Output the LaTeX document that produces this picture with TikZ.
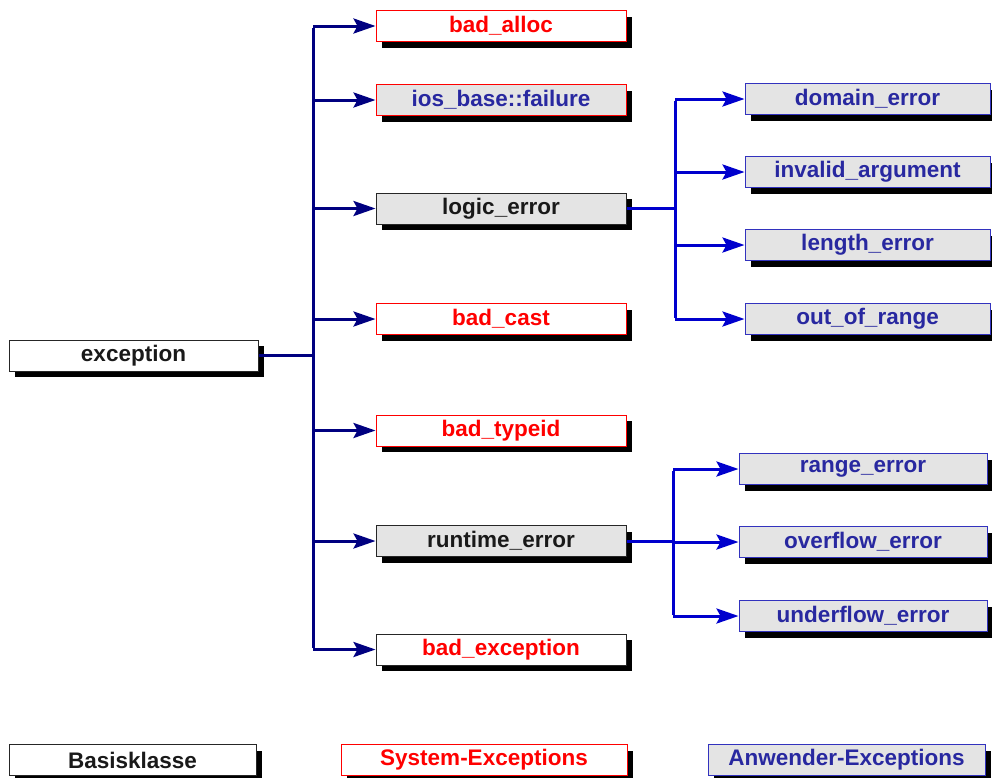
\documentclass[tikz,border=0pt]{standalone}
\usepackage{fontspec}
\setmainfont{Liberation Sans}
\usetikzlibrary{arrows.meta,shadows}
\definecolor{navy}{RGB}{0,0,128}
\definecolor{lblue}{RGB}{0,0,205}
\definecolor{boxgray}{RGB}{228,228,228}
\definecolor{txtblue}{RGB}{40,40,160}
\definecolor{sysred}{RGB}{255,0,0}
\definecolor{bxblue}{RGB}{50,50,190}
\tikzset{
  box/.style={draw, line width=1pt, inner sep=0pt, minimum height=31pt,
    font=\fontsize{22.5}{25}\selectfont\bfseries,
    drop shadow={shadow xshift=6pt, shadow yshift=-6pt, fill=black, opacity=1}},
  basis/.style={box, draw=black!85, fill=white, text=black!90},
  basisgray/.style={box, draw=black!85, fill=boxgray, text=black!90},
  sysbox/.style={box, draw=sysred, fill=white, text=sysred},
  sysgray/.style={box, draw=sysred, fill=boxgray, text=txtblue},
  sysblack/.style={box, draw=black!85, fill=white, text=sysred},
  userbox/.style={box, draw=bxblue, fill=boxgray, text=txtblue},
  midcol/.style={minimum width=250pt},
  trunk/.style={draw=navy, line width=3pt},
  trunkarr/.style={trunk, -{Stealth[length=22pt,width=15pt,inset=4pt]}},
  sub/.style={draw=lblue, line width=3pt},
  subarr/.style={sub, -{Stealth[length=22pt,width=15pt,inset=4pt]}},
}
\begin{document}
\begin{tikzpicture}[x=1pt,y=-1pt]
\useasboundingbox (0,0) rectangle (992,777);
% nodes
\node[basis, minimum width=249pt] (exc) at (133.5,355.5) {exception};
\node[sysbox, midcol] (alloc) at (501,26) {bad\_alloc};
\node[sysgray, midcol] (ios) at (501,100) {ios\_base::failure};
\node[basisgray, midcol] (logic) at (501,208.5) {logic\_error};
\node[sysbox, midcol] (cast) at (501,319) {bad\_cast};
\node[sysbox, midcol] (typeid) at (501,430.5) {bad\_typeid};
\node[basisgray, midcol] (runtime) at (501,541) {runtime\_error};
\node[sysblack, midcol] (badexc) at (501,649.5) {bad\_exception};
\node[userbox, minimum width=245pt] (domain) at (867.5,99) {domain\_error};
\node[userbox, minimum width=245pt] (invalid) at (867.5,172) {invalid\_argument};
\node[userbox, minimum width=245pt] (length) at (867.5,245) {length\_error};
\node[userbox, minimum width=245pt] (range) at (867.5,319) {out\_of\_range};
\node[userbox, minimum width=248pt] (rerr) at (863,469) {range\_error};
\node[userbox, minimum width=248pt] (over) at (863,542) {overflow\_error};
\node[userbox, minimum width=248pt] (under) at (863,616) {underflow\_error};
% legend
\node[basis, minimum width=247pt] (leg1) at (132.5,760) {Basisklasse};
\node[sysbox, minimum width=286pt] (leg2) at (484,760) {System-Exceptions};
\node[userbox, minimum width=277pt] (leg3) at (846.5,760) {Anwender-Exceptions};
% trunk coordinates
\coordinate (t1) at (313,26);
\coordinate (t2) at (313,100);
\coordinate (t3) at (313,208.5);
\coordinate (t0) at (313,355.5);
\coordinate (t4) at (313,319);
\coordinate (t5) at (313,430.5);
\coordinate (t6) at (313,541);
\coordinate (t7) at (313,649.5);
\draw[trunk] (exc.east) -- (t0);
\draw[trunk] ([yshift=-1.5pt]t1) -- ([yshift=1.5pt]t7);
\foreach \a/\b in {t1/alloc,t2/ios,t3/logic,t4/cast,t5/typeid,t6/runtime,t7/badexc}
  \draw[trunkarr] (\a) -- (\b.west);
% logic_error children
\coordinate (l0) at (675,208.5);
\coordinate (l1) at (675,99);
\coordinate (l2) at (675,172);
\coordinate (l3) at (675,245);
\coordinate (l4) at (675,319);
\draw[sub] (logic.east) -- (l0);
\draw[sub] ([yshift=-1.5pt]l1) -- ([yshift=1.5pt]l4);
\foreach \a/\b in {l1/domain,l2/invalid,l3/length,l4/range}
  \draw[subarr] (\a) -- (\b.west);
% runtime_error children
\coordinate (r0) at (673,541);
\coordinate (r1) at (673,469);
\coordinate (r2) at (673,542);
\coordinate (r3) at (673,616);
\draw[sub] (runtime.east) -- (r0);
\draw[sub] ([yshift=-1.5pt]r1) -- ([yshift=1.5pt]r3);
\foreach \a/\b in {r1/rerr,r2/over,r3/under}
  \draw[subarr] (\a) -- (\b.west);
\end{tikzpicture}
\end{document}
